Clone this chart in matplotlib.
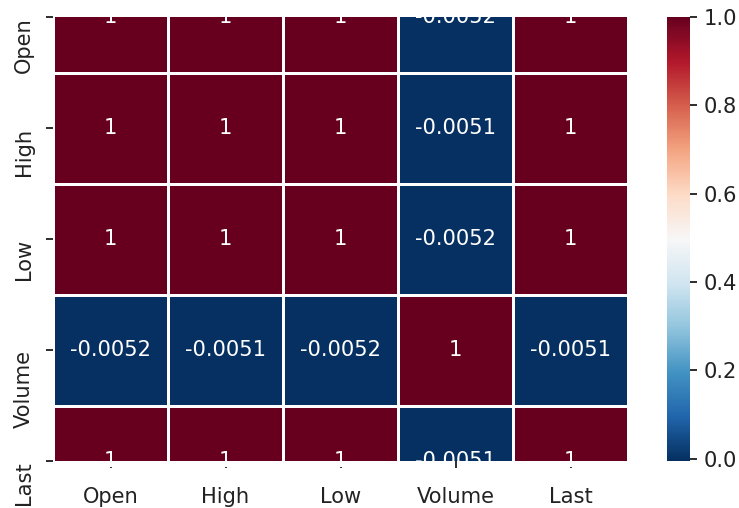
import numpy as np
import pandas as pd
import matplotlib
matplotlib.use("Agg")
import matplotlib.pyplot as plt
import seaborn as sns

# Correlation matrix of stock price columns
columns = ["Open", "High", "Low", "Volume", "Last"]
open_corr = [1, 1, 1, -0.0052, 1]
high_corr = [1, 1, 1, -0.0051, 1]
low_corr = [1, 1, 1, -0.0052, 1]
volume_corr = [-0.0052, -0.0051, -0.0052, 1, -0.0051]
last_corr = [1, 1, 1, -0.0051, 1]

corr = pd.DataFrame([open_corr, high_corr, low_corr, volume_corr, last_corr],
                    index=columns, columns=columns)

plt.rcParams["font.size"] = 10.5
plt.rcParams["text.color"] = "#222222"
plt.rcParams["xtick.labelcolor"] = "#222222"
plt.rcParams["ytick.labelcolor"] = "#222222"

dpi = 144
fig = plt.figure(figsize=(739 / dpi, 508 / dpi), dpi=dpi)
ax = fig.add_axes([53 / 739, 1 - 461 / 508, 575 / 739, 444 / 508])
cax = fig.add_axes([667 / 739, 1 - 461 / 508, 23 / 739, 444 / 508])

sns.heatmap(corr, annot=True, annot_kws={"size": 10.5, "color": "white"},
            cmap="RdBu_r", linewidths=1.5, linecolor="white", ax=ax, cbar_ax=cax)

# half-cropped top and bottom rows
ax.set_ylim(4.5, 0.5)
for label in ax.get_yticklabels():
    label.set_verticalalignment("top")
    label.set_rotation(90)
ax.tick_params(axis="x", pad=9.5)
ax.tick_params(axis="y", pad=6)

fig.savefig("out.png", dpi=dpi)
